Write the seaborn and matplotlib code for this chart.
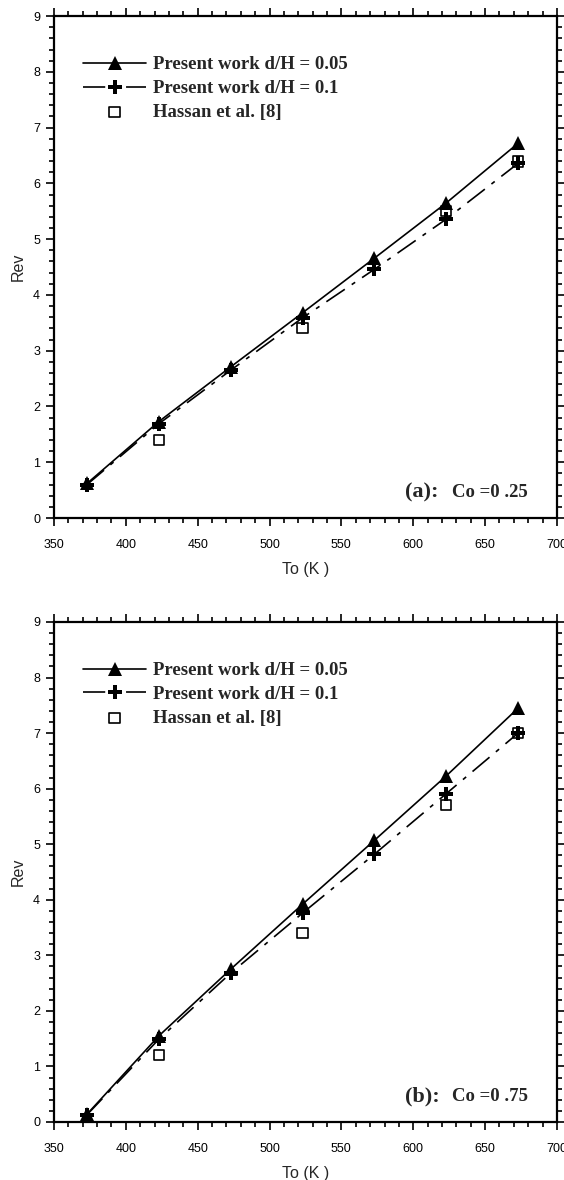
import matplotlib
matplotlib.use("Agg")
import matplotlib.pyplot as plt
from matplotlib.ticker import MultipleLocator
import seaborn as sns
import pandas as pd

# Inlet temperature (K) and reversible work for the two nozzle ratios
temps = [373, 423, 473, 523, 573, 623, 673]
rev_a_005 = [0.62, 1.73, 2.71, 3.68, 4.66, 5.65, 6.72]
rev_a_01 = [0.60, 1.69, 2.65, 3.59, 4.46, 5.36, 6.36]
rev_b_005 = [0.14, 1.55, 2.75, 3.92, 5.07, 6.23, 7.45]
rev_b_01 = [0.13, 1.49, 2.68, 3.76, 4.82, 5.91, 7.00]

# Reference data (Hassan et al.)
hassan_temps = [423, 523, 623, 673]
hassan_a = [1.40, 3.41, 5.50, 6.39]
hassan_b = [1.20, 3.40, 5.70, 7.00]

labels = ["Present work d/H = 0.05", "Present work d/H = 0.1", "Hassan et al. [8]"]
panel_tags = ["(a):", "(b):"]
panel_cases = ["Co =0 .25", "Co =0 .75"]
x_label = "To (K )"
y_label = "Rev"

sns.set_style("ticks")
plt.rcParams["font.family"] = ["Liberation Sans", "DejaVu Sans"]
plt.rcParams["lines.scale_dashes"] = False

serif_bold = dict(family=["Liberation Serif", "DejaVu Serif"], weight="bold")

fig = plt.figure(figsize=(5.64, 11.8), dpi=100)
ax_a = fig.add_axes([0.0957, 0.561, 0.8918, 0.4254])
ax_b = fig.add_axes([0.0957, 0.0492, 0.8918, 0.4237])

panels = [
    (ax_a, rev_a_005, rev_a_01, hassan_a),
    (ax_b, rev_b_005, rev_b_01, hassan_b),
]

for i, (ax, r005, r01, hs) in enumerate(panels):
    df = pd.DataFrame({"T": temps, "r005": r005, "r01": r01})
    dh = pd.DataFrame({"T": hassan_temps, "h": hs})

    sns.scatterplot(data=dh, x="T", y="h", ax=ax, marker="s", s=55,
                    facecolor="none", edgecolor="black", linewidth=1.2,
                    label=labels[2], zorder=2)
    sns.lineplot(data=df, x="T", y="r01", ax=ax, color="black", lw=1.2,
                 linestyle=(0, (16, 6, 3, 6)), marker="P", markersize=9.5,
                 markeredgewidth=0, label=labels[1], zorder=3)
    sns.lineplot(data=df, x="T", y="r005", ax=ax, color="black", lw=1.2,
                 marker="^", markersize=9.5, markeredgewidth=0,
                 label=labels[0], zorder=4)

    ax.set_xlim(350, 700)
    ax.set_ylim(0, 9)
    ax.xaxis.set_major_locator(MultipleLocator(50))
    ax.xaxis.set_minor_locator(MultipleLocator(10))
    ax.yaxis.set_major_locator(MultipleLocator(1))
    ax.yaxis.set_minor_locator(MultipleLocator(0.2))
    ax.tick_params(which="both", direction="out", top=True, right=True,
                   labeltop=False, labelright=False, width=1.2, colors="black",
                   labelsize=9)
    ax.tick_params(which="major", length=6)
    ax.tick_params(axis="x", which="major", pad=9)
    ax.tick_params(axis="y", which="major", pad=4)
    ax.tick_params(which="minor", length=3.8)
    for sp in ax.spines.values():
        sp.set_visible(True)
        sp.set_linewidth(1.6)
        sp.set_color("black")

    ax.set_xlabel(x_label, fontsize=11.5)
    ax.set_ylabel(y_label, fontsize=11.5)
    ax.xaxis.set_label_coords(0.5, -0.088)
    ax.yaxis.set_label_coords(-0.056, 0.5)

    handles, labs = ax.get_legend_handles_labels()
    order = [labs.index(l) for l in labels]
    ax.legend([handles[k] for k in order], [labs[k] for k in order],
              loc="upper left", bbox_to_anchor=(0.058, 0.92), frameon=False,
              borderpad=0, borderaxespad=0, handlelength=3.35,
              handletextpad=0.4, labelspacing=0.36,
              prop=dict(family=["Liberation Serif", "DejaVu Serif"],
                        weight="bold", size=13.5))

    ax.text(0.697, 0.05, panel_tags[i], transform=ax.transAxes,
            ha="left", va="center", fontsize=16, **serif_bold)
    ax.text(0.792, 0.05, panel_cases[i], transform=ax.transAxes,
            ha="left", va="center", fontsize=13.5, **serif_bold)

fig.savefig("out.png", dpi=100)
